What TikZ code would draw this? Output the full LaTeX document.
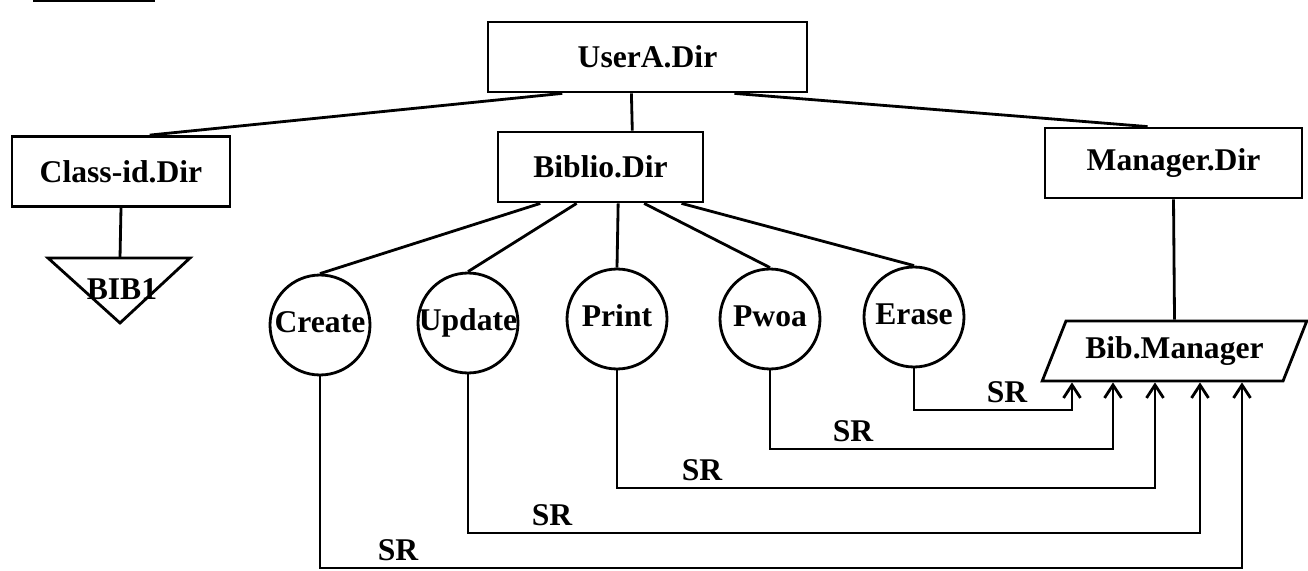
\documentclass[tikz,border=0pt]{standalone}
\usepackage{fontspec}
\setmainfont{Liberation Serif}
\usetikzlibrary{arrows.meta,shapes.geometric,calc}

\begin{document}
\begin{tikzpicture}[x=0.02cm,y=-0.02cm,line width=1.6pt,
  font=\fontsize{18}{20}\selectfont\bfseries,
  d/.style={draw,inner sep=0pt,minimum height=1.4cm},
  o/.style={draw,circle,inner sep=-3pt,minimum size=2cm,text height=12pt,text depth=4pt},
  p/.style={draw,trapezium,trapezium left angle=56,trapezium right angle=124,trapezium stretches,inner sep=0pt,minimum width=5.3cm,minimum height=1.2cm},
  a/.style={-{Straight Barb[length=2.6mm,width=3.4mm]}},
  l/.style={inner sep=0pt,anchor=base}]
\useasboundingbox (0,0) rectangle (1308,571);
\draw (33,1) -- (155,1);
\node[d,minimum width=6.38cm] (usr) at (647.5,57)  {UserA.Dir};
\node[d,minimum width=4.36cm] (cls) at (121,171.5) {Class-id.Dir};
\node[d,minimum width=4.1cm]  (bib) at (600.5,167) {Biblio.Dir};
\node[d,minimum width=5.14cm] (mgd) at (1173.5,163) {Manager.Dir};
\node[inner sep=0pt] (bib1) at (122,289) {BIB1};
\draw (48,258) -- (190,258) -- (120,323) -- cycle;
\coordinate (b1top) at (120,258);
\node[o] (create) at (320,325) {Create};
\node[o] (update) at (468,323) {Update};
\node[o] (print)  at (617,319) {Print};
\node[o] (pwoa)   at (770,319) {Pwoa};
\node[o] (erase)  at (914,317) {Erase};
\node[p] (bm) at (1174.5,351) {Bib.Manager};
\draw ($(usr.south west)!0.235!(usr.south east)$) -- ($(cls.north west)!0.63!(cls.north east)$);
\draw ($(usr.south west)!0.45!(usr.south east)$) -- ($(bib.north west)!0.653!(bib.north east)$);
\draw ($(usr.south west)!0.77!(usr.south east)$) -- ($(mgd.north west)!0.40!(mgd.north east)$);
\draw (cls.south) -- (b1top);
\draw ($(bib.south west)!0.21!(bib.south east)$) -- (create.north);
\draw ($(bib.south west)!0.385!(bib.south east)$) -- (update.north);
\draw ($(bib.south west)!0.585!(bib.south east)$) -- (print.north);
\draw ($(bib.south west)!0.71!(bib.south east)$) -- (pwoa.north);
\draw ($(bib.south west)!0.89!(bib.south east)$) -- (erase.north);
\draw (mgd.south) -- (bm.north);
% SR calls into the manager
\foreach \s/\tx/\ty/\lx in {erase/1072/410/1007,pwoa/1113/449/853,print/1155/488/702,update/1200/533/552,create/1242/568/398}{
  \draw[a] (\s.south) |- (\tx,\ty) -- (\tx,0 |- bm.south);
  \node[l] (sr-\s) at (\lx,\ty-8) {SR};
}
\end{tikzpicture}
\end{document}
